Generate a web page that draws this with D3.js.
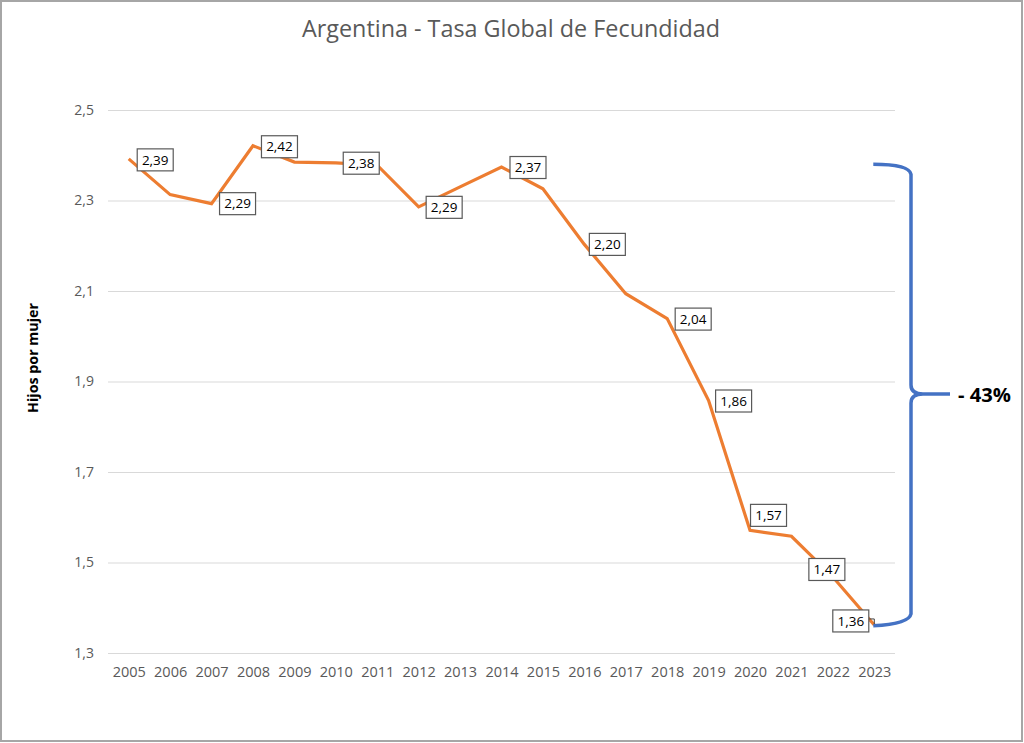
<!DOCTYPE html>
<html>
<head>
<meta charset="utf-8">
<script src="https://cdn.jsdelivr.net/npm/d3@7"></script>
<style>
  html, body { margin: 0; padding: 0; background: #fff; }
  svg { display: block; font-family: "Open Sans", sans-serif; }
</style>
</head>
<body>
<svg id="chart" width="1024" height="743"></svg>
<script>
// ---- data ----
const years = ["2005","2006","2007","2008","2009","2010","2011","2012","2013","2014",
               "2015","2016","2017","2018","2019","2020","2021","2022","2023"];
const tfr = [2.392, 2.313, 2.293, 2.421, 2.385, 2.383, 2.378, 2.286, 2.330, 2.374,
             2.326, 2.203, 2.094, 2.039, 1.858, 1.571, 1.558, 1.468, 1.362];
const labeledYears = ["2005","2007","2008","2011","2012","2014","2016","2018","2019","2020","2022","2023"];
const yTicks = [1.3, 1.5, 1.7, 1.9, 2.1, 2.3, 2.5];
const titleText = "Argentina - Tasa Global de Fecundidad";
const yAxisTitle = "Hijos por mujer";
const changeText = "- 43%";
const bracketFrom = 2.38, bracketTo = 1.36;

// ---- layout ----
const W = 1024, H = 743;
const plot = { left: 108, right: 895, top: 110, bottom: 653 };
const svg = d3.select("#chart");
const fmt = v => d3.format(".2f")(v).replace(".", ",");
const fmt1 = v => d3.format(".1f")(v).replace(".", ",");

const x = d3.scalePoint().domain(years).range([plot.left, plot.right]).padding(0.5);
const y = d3.scaleLinear().domain([1.3, 2.5]).range([plot.bottom, plot.top]);

// border
svg.append("rect").attr("x", 1).attr("y", 1).attr("width", W - 3).attr("height", H - 3)
  .attr("fill", "#fff").attr("stroke", "#a6a6a6").attr("stroke-width", 2);

function fitText(sel, target) {
  const fs = parseFloat(sel.attr("font-size"));
  const len = sel.node().getComputedTextLength();
  sel.attr("font-size", (fs * target / len).toFixed(2));
}

// title
const title = svg.append("text").attr("x", 511).attr("y", 37).attr("text-anchor", "middle")
  .attr("font-size", 20).attr("fill", "#595959").text(titleText);
fitText(title, 418);

// gridlines + y axis
const yAxis = d3.axisLeft(y).tickValues(yTicks).tickSize(-(plot.right - plot.left)).tickPadding(14).tickFormat(fmt1);
const gy = svg.append("g").attr("transform", `translate(${plot.left},0)`).call(yAxis);
gy.select(".domain").remove();
gy.selectAll(".tick line").attr("stroke", "#d9d9d9").attr("stroke-width", 1);
gy.selectAll(".tick text").attr("fill", "#595959").attr("font-size", 14)
  .attr("font-family", "Open Sans, sans-serif");

// x axis
const xAxis = d3.axisBottom(x).tickSize(0).tickPadding(14);
const gx = svg.append("g").attr("transform", `translate(0,${plot.bottom})`).call(xAxis);
gx.select(".domain").remove();
gx.selectAll(".tick text").attr("fill", "#595959").attr("font-size", 14.5)
  .attr("font-family", "Open Sans, sans-serif");

// y axis title
const yt = svg.append("text").attr("transform", "translate(38,358) rotate(-90)")
  .attr("text-anchor", "middle").attr("font-weight", "bold").attr("font-size", 13)
  .attr("fill", "#000").text(yAxisTitle);
fitText(yt, 110);

// line
const pts = years.map((yr, i) => ({ yr, v: tfr[i] }));
svg.append("path").datum(pts)
  .attr("fill", "none").attr("stroke", "#ED7D31").attr("stroke-width", 3.2)
  .attr("stroke-linejoin", "miter")
  .attr("d", d3.line().x(d => x(d.yr)).y(d => y(d.v)));

// bracket annotation
const bx = plot.right + 16, tipX = 950;
const yTop = y(bracketFrom), yBot = y(bracketTo), yMid = 394;
const xStart = x("2023") - 1;
const bp = d3.path();
bp.moveTo(xStart, yTop);
bp.quadraticCurveTo(bx - 2, yTop, bx, yTop + 10);
bp.lineTo(bx, yMid - 9);
bp.quadraticCurveTo(bx, yMid, bx + 12, yMid);
bp.lineTo(tipX, yMid);
bp.moveTo(bx + 12, yMid);
bp.quadraticCurveTo(bx, yMid, bx, yMid + 9);
bp.lineTo(bx, yBot - 12);
bp.quadraticCurveTo(bx - 2, yBot - 2, xStart, yBot);
svg.append("path").attr("d", bp.toString()).attr("fill", "none")
  .attr("stroke", "#4472C4").attr("stroke-width", 3.5).attr("stroke-linecap", "butt");

const ct = svg.append("text").attr("x", 958).attr("y", 402).attr("font-weight", "bold")
  .attr("font-size", 20).attr("fill", "#000").text(changeText);
fitText(ct, 53);

// data labels
const offsets = {
  "2005": [26.5, 1], "2007": [26, 0], "2008": [26.5, 1], "2011": [-16, -2],
  "2012": [25.5, 0.5], "2014": [26.5, 0.5], "2016": [23, 0], "2018": [26, 0.5],
  "2019": [25, 0.5], "2020": [18.5, -15], "2022": [-6, -7.5], "2023": [-23.5, -4]
};
const bw = 36, bh = 22;
const lab = svg.append("g");
labeledYears.forEach(yr => {
  const i = years.indexOf(yr);
  const px = x(yr), py = y(tfr[i]);
  const [dx, dy] = offsets[yr];
  const cx = px + dx, cy = py + dy;
  if (yr === "2023") {
    lab.append("path").attr("d", `M${cx + bw / 2},${cy - 2} L${px},${cy - 2} L${px},${py - 1}`)
      .attr("fill", "none").attr("stroke", "#404040").attr("stroke-width", 1);
  }
  lab.append("rect").attr("x", cx - bw / 2).attr("y", cy - bh / 2).attr("width", bw).attr("height", bh)
    .attr("fill", "#fff").attr("stroke", "#595959").attr("stroke-width", 1.2);
  lab.append("text").attr("x", cx).attr("y", cy + 4.7).attr("text-anchor", "middle")
    .attr("font-size", 13.5).attr("fill", "#000").text(fmt(tfr[i]));
});
</script>
</body>
</html>
